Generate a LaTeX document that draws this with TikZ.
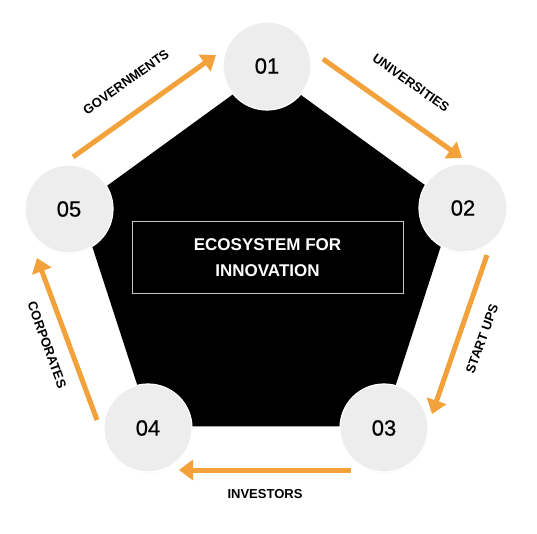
\documentclass[tikz,border=0pt]{standalone}
\usepackage{fontspec}
\setmainfont{Liberation Sans}
\newfontfamily\numfont{Liberation Sans}[FakeBold=0.6]
\usetikzlibrary{arrows.meta,shadows}
\definecolor{orng}{RGB}{243,161,58}
\definecolor{circfill}{RGB}{237,237,237}
\definecolor{boxline}{RGB}{200,200,200}
\begin{document}
\begin{tikzpicture}[x=1pt,y=-1pt,
  numcirc/.style={circle, minimum size=88pt, inner sep=0pt, fill=circfill, draw=white, line width=1.2pt,
     circular drop shadow={shadow xshift=0pt, shadow yshift=-1.2pt, opacity=0.18, shadow scale=1.01},
     font=\numfont\fontsize{22}{26}\selectfont, text=black},
  arr/.style={draw=orng, line width=5pt, -{Triangle[length=14pt,width=20pt]}},
  lbl/.style={font=\bfseries\fontsize{13}{16}\selectfont, text=black, inner sep=0pt},
  titlebox/.style={draw=boxline, line width=1pt, minimum width=271pt, minimum height=71pt,
     align=center, text=white, font=\bfseries\fontsize{17}{26}\selectfont}
]
\useasboundingbox (0,0) rectangle (537,534);
\fill[white] (0,0) rectangle (537,534);
% black pentagon
\fill[black] (266.5,70) -- (453.9,206.1) -- (382.3,426.4) -- (150.7,426.4) -- (79.1,206.1) -- cycle;
% title box
\node[titlebox] (title) at (267.5,257.5) {ECOSYSTEM FOR\\INNOVATION};
% arrows
\coordinate (g1) at (73,157);  \coordinate (g2) at (216,55);
\coordinate (u1) at (323,59);  \coordinate (u2) at (462,158);
\coordinate (s1) at (487,255); \coordinate (s2) at (432,414);
\coordinate (i1) at (351,470); \coordinate (i2) at (179,470);
\coordinate (c1) at (97,420);  \coordinate (c2) at (37,258);
\draw[arr] (g1) -- (g2);
\draw[arr] (u1) -- (u2);
\draw[arr] (s1) -- (s2);
\draw[arr] (i1) -- (i2);
\draw[arr] (c1) -- (c2);
% circles
\node[numcirc] (n1) at (267,66) {01};
\node[numcirc] (n2) at (463,208) {02};
\node[numcirc] (n3) at (384,428) {03};
\node[numcirc] (n4) at (148,428) {04};
\node[numcirc] (n5) at (69,209) {05};
% labels
\node[lbl, rotate=35.5] (lg) at (126,82) {GOVERNMENTS};
\node[lbl, rotate=-35.5] (lu) at (411,83) {UNIVERSITIES};
\node[lbl, rotate=70] (ls) at (482,339) {START UPS};
\node[lbl] (li) at (265,494) {INVESTORS};
\node[lbl, rotate=-70] (lc) at (47,345) {CORPORATES};
\end{tikzpicture}
\end{document}
